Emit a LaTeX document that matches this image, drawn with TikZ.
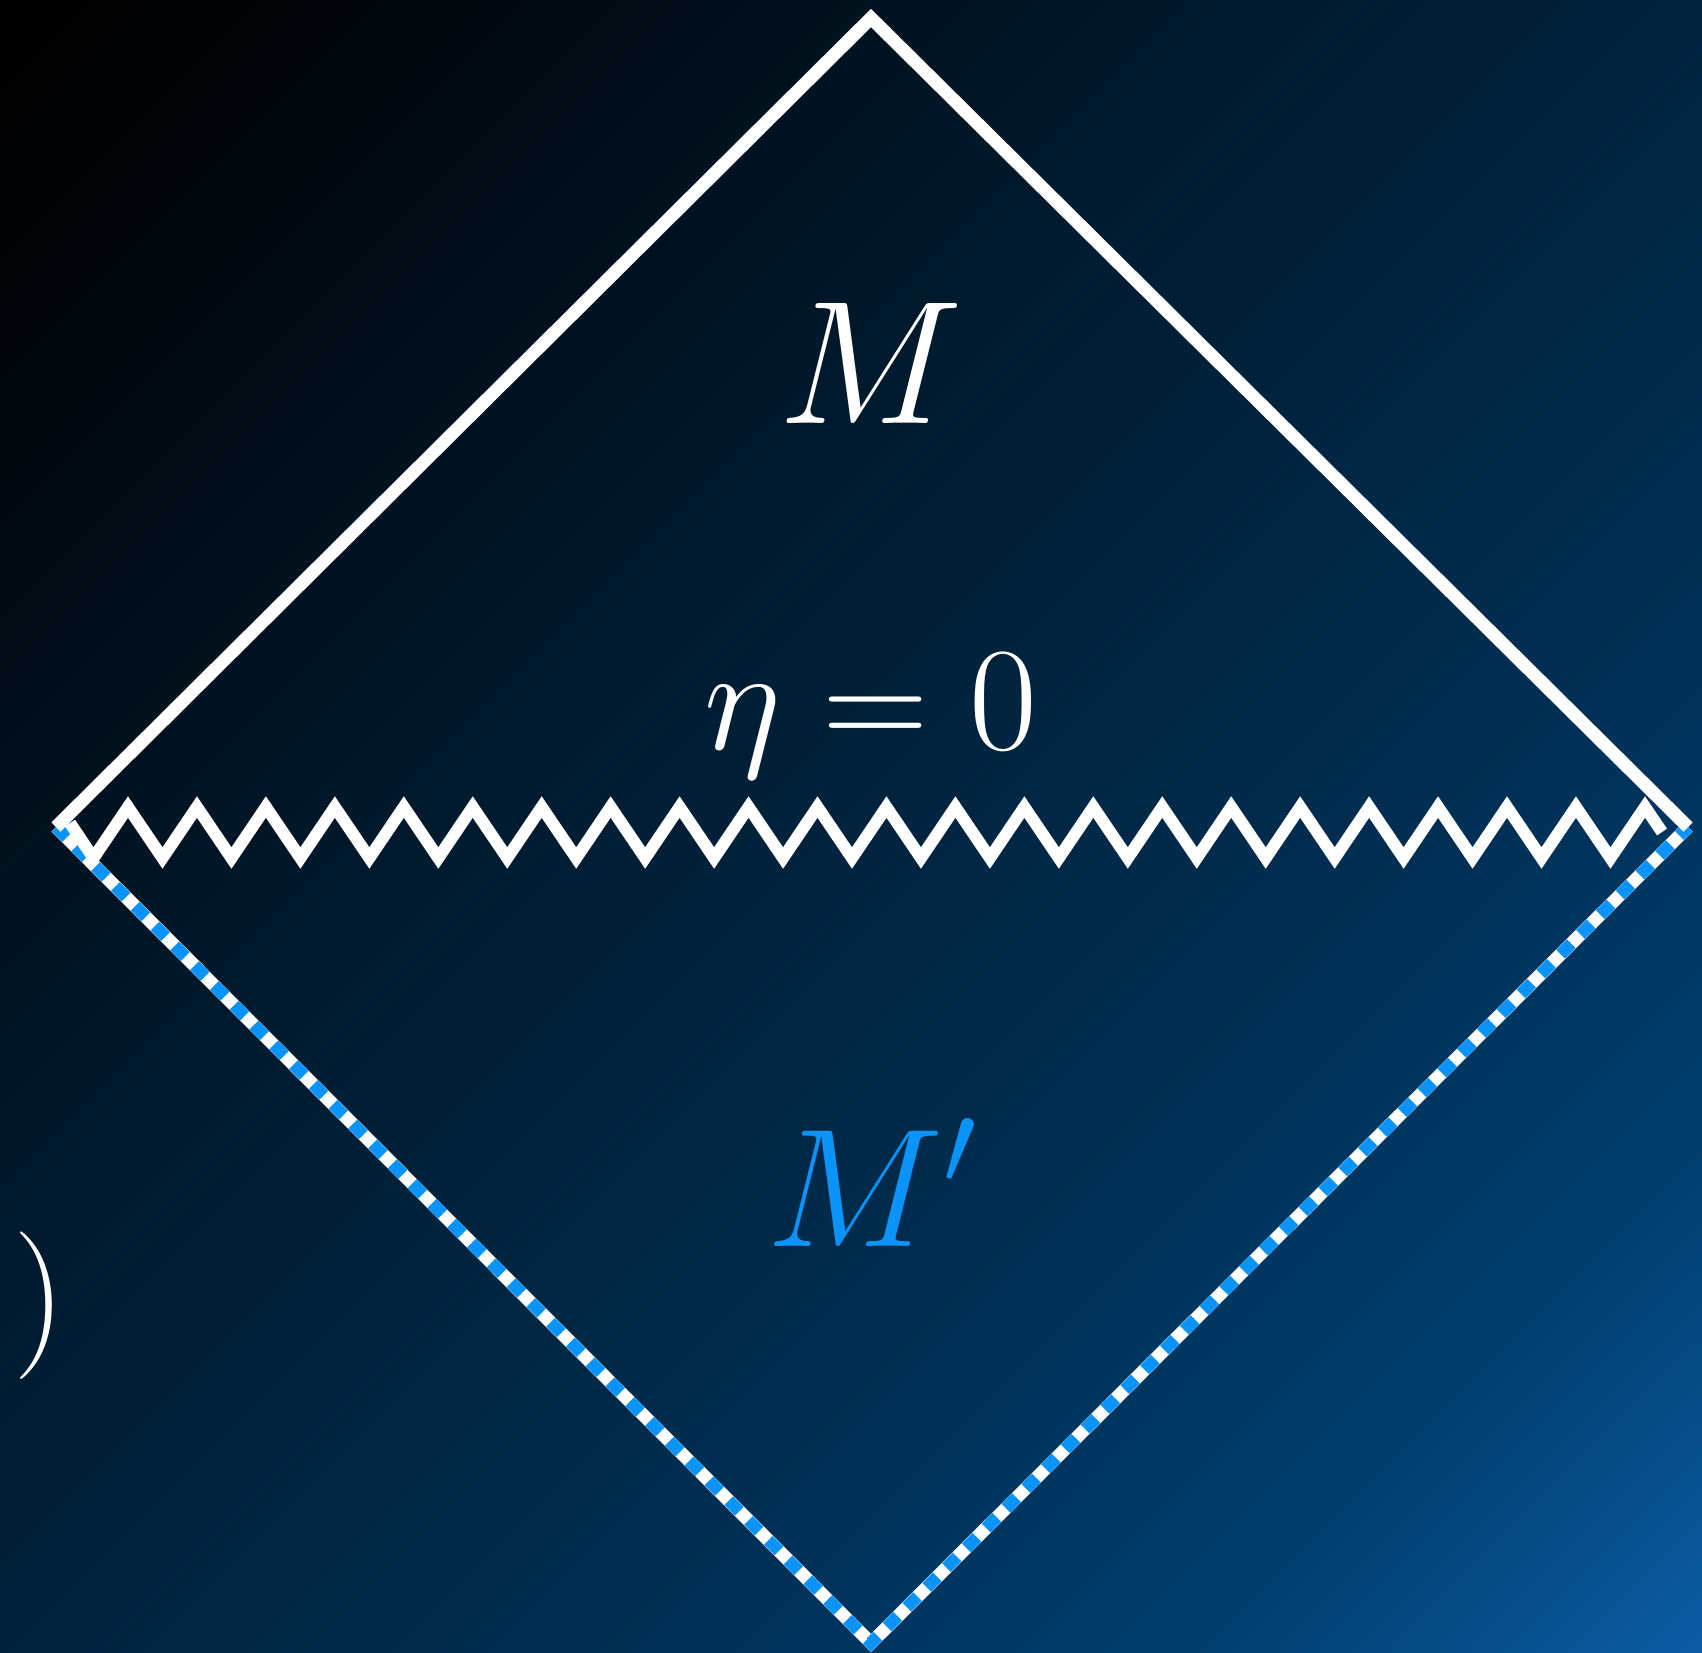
\RequirePackage{fix-cm}
\documentclass[tikz,border=0pt]{standalone}
\usepackage{xcolor}
\usepackage{tikz}
\usetikzlibrary{positioning}
\definecolor{edgeblue}{RGB}{10,148,250}
\pgfdeclarehorizontalshading{nightsky}{100bp}{rgb(0bp)=(0,0,0); rgb(14.6bp)=(0,0,0); rgb(24bp)=(0,0.03,0.06); rgb(36bp)=(0,0.08,0.14); rgb(50bp)=(0,0.137,0.243); rgb(64bp)=(0,0.19,0.34); rgb(75bp)=(0,0.245,0.44); rgb(80bp)=(0.02,0.3,0.53); rgb(85.4bp)=(0.05,0.36,0.64); rgb(100bp)=(0.05,0.36,0.64)}

\begin{document}
\begin{tikzpicture}[x=0.1mm, y=-0.1mm,
    rim/.style={draw=white, line width=1.3mm, line join=miter},
    singular/.style={draw=white, line width=1.2mm, line join=miter},
    nullbase/.style={draw=white, line width=1.3mm, line join=miter},
    nulldash/.style={draw=edgeblue, line width=1.25mm, dash pattern=on 1.5mm off 1.3mm},
    tag/.style={text=white, inner sep=0pt, anchor=base}
]
\useasboundingbox (0,0) rectangle (1702,1652);
\shade[shading=nightsky, shading angle=-45] (0,0) rectangle (1702,1652);

\coordinate (westpt) at (56,827);
\coordinate (northpt) at (871,18);
\coordinate (eastpt) at (1688,827);
\coordinate (southpt) at (871,1643);

% past null boundary
\draw[nullbase] (westpt) -- (southpt) -- (eastpt);
\draw[nulldash] (westpt) -- (southpt) -- (eastpt);

% future region
\draw[rim] (westpt) -- (northpt) -- (eastpt);

% singularity at eta = 0
\draw[singular] (70,823) -- (93.5,858)
    \foreach \k in {0,...,21} { -- ({128+68.95*\k},807) -- ({162.5+68.95*\k},858) }
    -- (1645,807) -- (1662,832);

\node[tag, font=\fontsize{50}{60}\selectfont] (mlabel) at (871,423) {$M$};
\node[tag, font=\fontsize{42}{50}\selectfont] (etalabel) at (871,749) {$\eta = 0$};
\node[tag, text=edgeblue, font=\fontsize{48}{58}\selectfont] (mprime) at (872,1246) {$M'$};
\node[tag, font=\fontsize{42}{50}\selectfont] (paren) at (40,1342) {)};
\end{tikzpicture}
\end{document}
